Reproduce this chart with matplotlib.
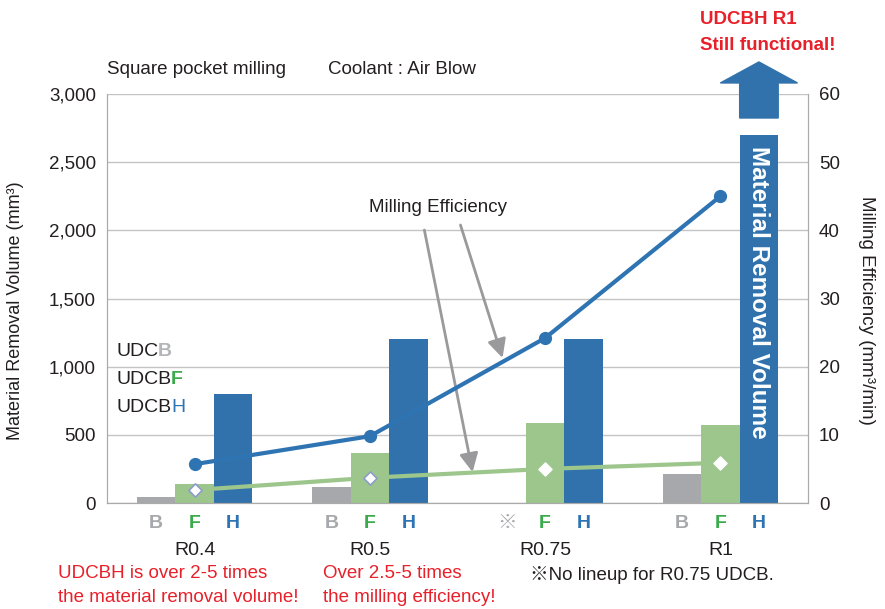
import matplotlib
matplotlib.use("Agg")
import matplotlib.pyplot as plt
from matplotlib.offsetbox import TextArea, HPacker, AnnotationBbox
from matplotlib.patches import Polygon
import numpy as np

plt.rcParams['font.family'] = ['Liberation Sans', 'Noto Sans CJK JP', 'DejaVu Sans']

categories = ["R0.4", "R0.5", "R0.75", "R1"]
vol_B = [45, 120, np.nan, 215]
vol_F = [140, 370, 590, 575]
vol_H = [800, 1200, 1200, 2700]
eff_H = [5.7, 9.8, 24.2, 45.0]
eff_F = [1.9, 3.7, 5.0, 5.9]
sub_labels = ["B", "F", "H"]

C_B = "#A7A8AC"
C_F = "#9CC68C"
C_H = "#3172AC"
C_LINE_H = "#2F74B2"
C_RED = "#E8202A"
C_TXT = "#231F20"
C_GRID = "#C4C4C4"

fig = plt.figure(figsize=(8.85, 6.09), dpi=100)
ax = fig.add_axes([107/885, 1-503/609, 701/885, 409/609])
ax2 = ax.twinx()

x = np.arange(len(categories))
w = 0.22
ax.bar(x - w, vol_B, w, color=C_B, zorder=2)
ax.bar(x, vol_F, w, color=C_F, zorder=2)
ax.bar(x + w, vol_H, w, color=C_H, zorder=2)

ax.set_xlim(-0.5, 3.5)
ax.set_ylim(0, 3000)
ax.set_yticks(np.arange(0, 3001, 500))
ax.set_yticklabels([f"{v:,}" for v in range(0, 3001, 500)])
ax.grid(axis='y', color=C_GRID, lw=1, zorder=0)
ax.set_axisbelow(True)
ax.set_xticks([])
ax.tick_params(axis='y', length=0, labelsize=13.5, colors=C_TXT, pad=8)
for s in ['left', 'bottom', 'right']:
    ax.spines[s].set_color('#AAAAAA')
ax.spines['top'].set_visible(False)

ax2.set_ylim(0, 60)
ax2.set_yticks(np.arange(0, 61, 10))
ax2.tick_params(axis='y', length=0, labelsize=13.5, colors=C_TXT, pad=8)
for s in ['left', 'bottom', 'right']:
    ax2.spines[s].set_color('#AAAAAA')
ax2.spines['top'].set_visible(False)
ax2.plot(x, eff_F, color=C_F, lw=3, zorder=3)
ax2.scatter(x[:2], eff_F[:2], marker='D', s=45, facecolor='white', edgecolor='#8E9CC8', lw=1.2, zorder=4)
ax2.scatter(x[2:], eff_F[2:], marker='D', s=45, facecolor='white', edgecolor='white', zorder=4)
ax2.plot(x, eff_H, color=C_LINE_H, lw=3, marker='o', ms=8.5, zorder=5)

ax.set_ylabel("Material Removal Volume (mm³)", fontsize=13, color=C_TXT)
ax.yaxis.set_label_coords(-0.118, 0.47)
ax2.set_ylabel("Milling Efficiency (mm³/min)", fontsize=13.5, color=C_TXT, rotation=-90)
ax2.yaxis.set_label_coords(1.095, 0.472)

# Arrow above the R1 H bar
xc = x[3] + w
top = vol_H[3]
poly = Polygon([[xc - w/2, 2824], [xc - w/2, 3081], [xc - w, 3081], [xc, 3235],
                [xc + w, 3081], [xc + w/2, 3081], [xc + w/2, 2824]],
               closed=True, color=C_H, clip_on=False, zorder=6)
ax.add_patch(poly)
ax.text(xc, top - 80, "Material Removal Volume", rotation=-90, ha='center', va='top',
        color='white', fontsize=17.5, fontweight='bold', zorder=7)

# Milling efficiency annotation
ax.text(1.386, 2164, "Milling Efficiency", ha='center', va='center', fontsize=13.5, color=C_TXT, zorder=7)
for (sx, sy, tx, ty) in [(1.311, 2002, 1.586, 227), (1.517, 2039, 1.757, 1064)]:
    ax.annotate("", xy=(tx, ty), xytext=(sx, sy),
                arrowprops=dict(arrowstyle='-|>', color='#9A9A9C', lw=2, mutation_scale=28,
                                shrinkA=0, shrinkB=0), zorder=6)

# Sub labels B F H
sub_colors = [C_B, "#3CAA4C", "#2F74B2"]
for i in range(len(categories)):
    for j, (lab, col) in enumerate(zip(sub_labels, sub_colors)):
        t = lab
        if i == 2 and j == 0:
            t = "※"
        ax.text(x[i] + (j - 1) * w, -0.051, t, transform=ax.get_xaxis_transform(),
                ha='center', va='center', fontsize=14, fontweight='bold', color=col)
    ax.text(x[i], -0.115, categories[i], transform=ax.get_xaxis_transform(),
            ha='center', va='center', fontsize=14, color=C_TXT)

# Legend-like labels
def colored(parts, xpx, ypx):
    boxes = []
    for txt, col, wt in parts:
        boxes.append(TextArea(txt, textprops=dict(color=col, fontsize=14, fontweight=wt)))
    pk = HPacker(children=boxes, align="baseline", pad=0, sep=0)
    ab = AnnotationBbox(pk, (xpx/885, 1 - ypx/609), xycoords='figure fraction',
                        box_alignment=(0, 0.5), frameon=False, pad=0)
    fig.add_artist(ab)

colored([("UDC", C_TXT, 'normal'), ("B", "#B4B5B8", 'bold')], 116, 352)
colored([("UDCB", C_TXT, 'normal'), ("F", "#3CAA4C", 'bold')], 116, 380)
colored([("UDCB", C_TXT, 'normal'), ("H", "#2F74B2", 'normal')], 116, 407)

# Header texts
fig.text(107/885, 1 - 69/609, "Square pocket milling", fontsize=13.5, color=C_TXT, va='center')
fig.text(328/885, 1 - 69/609, "Coolant : Air Blow", fontsize=13.5, color=C_TXT, va='center')
fig.text(700/885, 1 - 20/609, "UDCBH R1", fontsize=13.5, color=C_RED, fontweight='bold', va='center')
fig.text(700/885, 1 - 45/609, "Still functional!", fontsize=13.5, color=C_RED, fontweight='bold', va='center')

# Bottom notes
fig.text(58/885, 1 - 573/609, "UDCBH is over 2-5 times", fontsize=13.5, color=C_RED, va='center')
fig.text(58/885, 1 - 597/609, "the material removal volume!", fontsize=13.5, color=C_RED, va='center')
fig.text(323/885, 1 - 573/609, "Over 2.5-5 times", fontsize=13.5, color=C_RED, va='center')
fig.text(323/885, 1 - 597/609, "the milling efficiency!", fontsize=13.5, color=C_RED, va='center')
fig.text(530/885, 1 - 575/609, "※No lineup for R0.75 UDCB.", fontsize=13.5, color=C_TXT, va='center')

fig.savefig("out.png", dpi=100)
